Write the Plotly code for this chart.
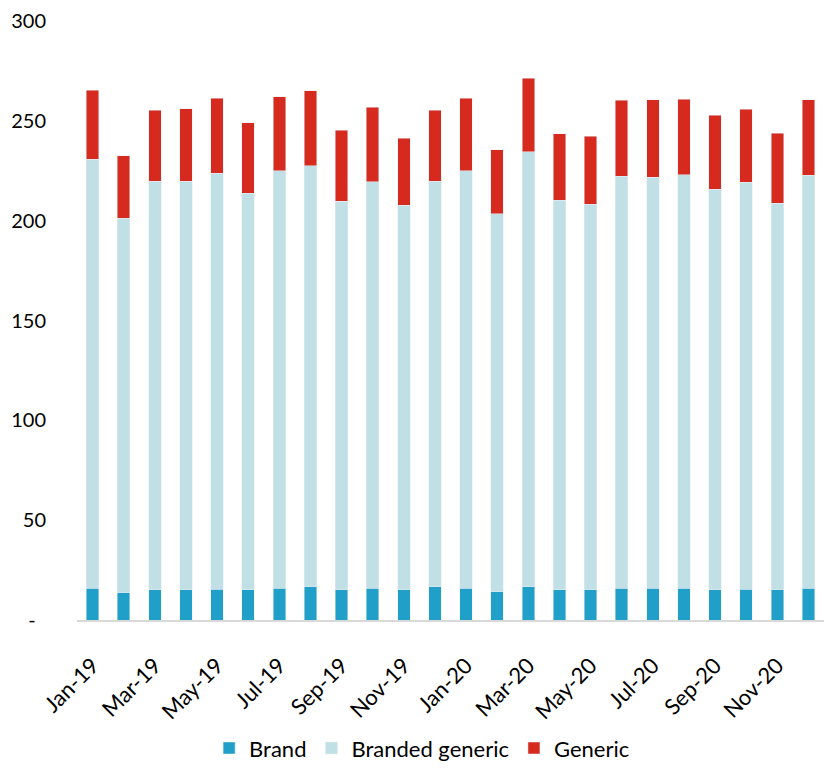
import plotly.graph_objects as go

months = ["Jan-19", "Feb-19", "Mar-19", "Apr-19", "May-19", "Jun-19",
          "Jul-19", "Aug-19", "Sep-19", "Oct-19", "Nov-19", "Dec-19",
          "Jan-20", "Feb-20", "Mar-20", "Apr-20", "May-20", "Jun-20",
          "Jul-20", "Aug-20", "Sep-20", "Oct-20", "Nov-20", "Dec-20"]

brand = [15.8, 13.7, 15.2, 15.2, 15.5, 15.2, 16.0, 16.7, 15.2, 16.0, 15.2, 16.7,
         15.8, 14.2, 16.7, 15.2, 15.2, 16.0, 15.8, 15.8, 15.2, 15.5, 15.2, 16.0]
branded_generic = [215.0, 187.5, 204.6, 204.6, 208.2, 198.5, 209.0, 210.8, 194.6, 203.5, 192.5, 203.1,
                   209.2, 189.3, 217.8, 195.1, 193.1, 206.2, 206.0, 207.2, 200.5, 203.7, 193.6, 206.7]
generic = [34.5, 31.3, 35.5, 36.2, 37.6, 35.3, 37.0, 37.5, 35.5, 37.3, 33.6, 35.5,
           36.3, 32.0, 36.8, 33.2, 34.0, 38.0, 38.7, 37.8, 37.1, 36.5, 35.0, 37.8]

y_ticks = [0, 50, 100, 150, 200, 250, 300]
y_ticktext = ["-\u00a0\u00a0", "50", "100", "150", "200", "250", "300"]

FONT = "Lato"
TXT = "#000000"

fig = go.Figure()
fig.add_trace(go.Bar(x=months, y=brand, name="Brand", marker_color="#209FC8"))
fig.add_trace(go.Bar(x=months, y=branded_generic, name="Branded generic", marker_color="#C0E0E6"))
fig.add_trace(go.Bar(x=months, y=generic, name="Generic", marker_color="#D62A1F"))

n = len(months)
boundary_ticks = [i - 0.5 for i in range(0, n + 1, 2)]

fig.update_layout(
    barmode="stack",
    bargap=0.6,
    width=827, height=771,
    margin=dict(l=77, r=3, t=21, b=150),
    plot_bgcolor="white", paper_bgcolor="white",
    font=dict(family=FONT, size=20, color=TXT),
    showlegend=True,
    legend=dict(orientation="h", x=0.462, xanchor="center", y=-0.212, yanchor="middle",
                font=dict(size=22), itemwidth=30, traceorder="normal"),
    xaxis=dict(type="category", range=[-0.5, n - 0.5], tickvals=months[::2],
               tickangle=-45, ticks="", showline=True, linecolor="#D9D9D9", linewidth=2,
               showgrid=False, zeroline=False, tickfont=dict(size=22),
               ticklabelstandoff=22),
    xaxis2=dict(overlaying="x", anchor="y", type="linear", range=[-0.5, n - 0.5],
                tickvals=boundary_ticks, showticklabels=False, ticks="outside",
                ticklen=7, tickwidth=2, tickcolor="#D9D9D9", showgrid=False,
                zeroline=False, showline=False, side="bottom"),
    yaxis=dict(range=[0, 300], tickvals=y_ticks, ticktext=y_ticktext, showgrid=False,
               zeroline=False, showline=False, ticks="", ticklabelstandoff=30,
               tickfont=dict(size=20)),
)

fig.write_html("out.html")
